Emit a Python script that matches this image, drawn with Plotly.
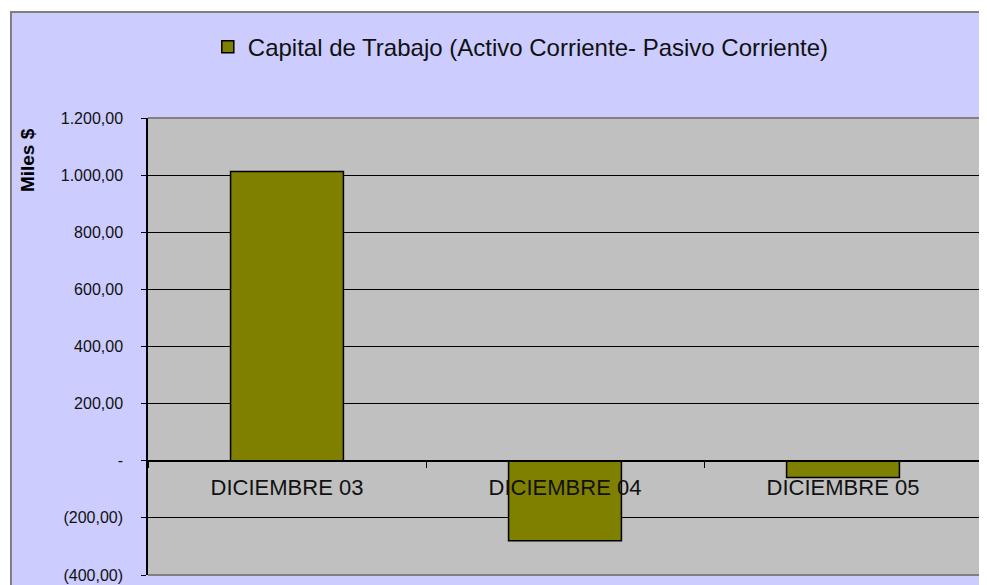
import plotly.graph_objects as go

# data (miles $)
categories = ["DICIEMBRE 03", "DICIEMBRE 04", "DICIEMBRE 05"]
capital_trabajo = [1013.0, -280.0, -59.0]
series_name = "Capital de Trabajo (Activo Corriente- Pasivo Corriente)"

y_tick_values = [-400, -200, 0, 200, 400, 600, 800, 1000, 1200]
y_tick_labels = ["(400,00)", "(200,00)", "-", "200,00", "400,00",
                 "600,00", "800,00", "1.000,00", "1.200,00"]

FONT = "Liberation Sans, Arial, sans-serif"
LAVENDER = "#CCCCFF"
PLOT_GRAY = "#C0C0C0"
OLIVE = "#808000"

# frame edges in paper units
FRAME_LEFT = -0.1643
FRAME_TOP = 1.2319

fig = go.Figure()
fig.add_trace(go.Bar(
    x=categories,
    y=capital_trabajo,
    name=series_name,
    width=0.406,
    marker=dict(color=OLIVE, line=dict(color="black", width=1.5)),
    showlegend=True,
))

fig.update_layout(
    # page body adds an 8px offset; the overflow past the window is cut off
    width=987,
    height=585,
    margin=dict(l=140, r=13, t=110, b=18, autoexpand=False),
    paper_bgcolor=LAVENDER,
    plot_bgcolor=PLOT_GRAY,
    font=dict(family=FONT, color="#111111"),
    showlegend=True,
    legend=dict(
        orientation="h",
        x=0.447, xanchor="center",
        y=1.155, yanchor="middle",
        bgcolor="rgba(0,0,0,0)",
        font=dict(size=24, family=FONT, color="#111111"),
    ),
    xaxis=dict(
        type="category",
        anchor="free",
        position=0.25,
        showline=True,
        linecolor="black",
        linewidth=1,
        ticks="outside",
        tickson="boundaries",
        ticklen=6,
        tickcolor="black",
        ticklabelstandoff=7,
        tickfont=dict(size=22, family=FONT, color="#111111"),
        showgrid=False,
        range=[-0.5, 2.5],
    ),
    yaxis=dict(
        range=[-400, 1200],
        tickvals=y_tick_values,
        ticktext=y_tick_labels,
        tickfont=dict(size=16, family=FONT, color="#111111"),
        ticks="outside",
        ticklen=5,
        tickcolor="black",
        ticklabelstandoff=15,
        ticklabeloverflow="allow",
        showline=True,
        linecolor="black",
        linewidth=1.5,
        showgrid=True,
        gridcolor="black",
        gridwidth=1,
        zeroline=True,
        zerolinecolor="black",
        zerolinewidth=1,
    ),
    shapes=[
        # white strips outside the lavender frame
        dict(type="rect", xref="paper", yref="paper",
             x0=-0.3, x1=FRAME_LEFT, y0=-0.2, y1=1.4,
             fillcolor="white", line=dict(width=0), layer="below"),
        dict(type="rect", xref="paper", yref="paper",
             x0=-0.3, x1=1.2, y0=FRAME_TOP, y1=1.4,
             fillcolor="white", line=dict(width=0), layer="below"),
        # gray frame border, left and top
        dict(type="path", xref="paper", yref="paper",
             path=f"M{FRAME_LEFT},-0.2 L{FRAME_LEFT},{FRAME_TOP} L1.2,{FRAME_TOP}",
             line=dict(color="#7F7F7F", width=2), layer="below"),
        # gray border on top, right and bottom of the plot area
        dict(type="path", xref="paper", yref="paper",
             path="M0,1 L1,1 L1,0 L0,0",
             line=dict(color="#808080", width=2), layer="above"),
    ],
    annotations=[
        dict(text="<b>Miles $</b>", xref="paper", yref="paper",
             x=-0.145, y=0.908, textangle=-90, showarrow=False,
             font=dict(size=19, family=FONT, color="black"),
             xanchor="center", yanchor="middle"),
    ],
)

fig.write_html("out.html")
